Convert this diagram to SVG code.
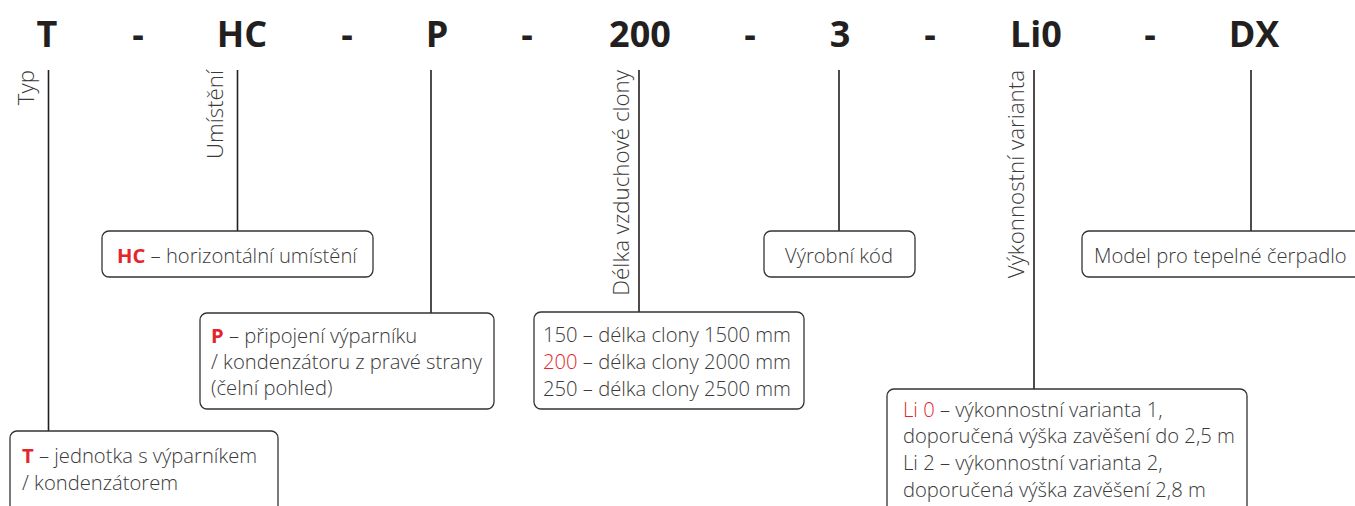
<svg xmlns="http://www.w3.org/2000/svg" width="1355" height="506" viewBox="0 0 1355 506">
<style>
.hd{font-family:"Open Sans","Liberation Sans",sans-serif;font-weight:700;font-size:36px;fill:#231f20;text-anchor:middle}
.lb{font-family:"Open Sans","Liberation Sans",sans-serif;font-weight:300;font-size:22.3px;fill:#3a3a3a;text-anchor:end}
.tx{font-family:"Open Sans","Liberation Sans",sans-serif;font-weight:300;font-size:20.2px;fill:#3a3a3a}
.rd{fill:#e3262d;font-weight:700}
.rn{fill:#e3262d}
.bx{fill:#fff;stroke:#333;stroke-width:1.3}
.ln{stroke:#231f20;stroke-width:1.6;fill:none}
</style>
<rect width="1355" height="506" fill="#fff"/>
<g id="header">
<text class="hd" x="47" y="47">T</text>
<text class="hd" x="138" y="47">-</text>
<text class="hd" x="242" y="47">HC</text>
<text class="hd" x="347" y="47">-</text>
<text class="hd" x="437" y="47">P</text>
<text class="hd" x="527" y="47">-</text>
<text class="hd" x="640" y="47">200</text>
<text class="hd" x="750" y="47">-</text>
<text class="hd" x="840" y="47">3</text>
<text class="hd" x="930" y="47">-</text>
<text class="hd" x="1036" y="47">Li0</text>
<text class="hd" x="1150" y="47">-</text>
<text class="hd" x="1254" y="47">DX</text>
</g>
<g id="connectors">
<line class="ln" x1="48.5" y1="70" x2="48.5" y2="431"/>
<line class="ln" x1="237.5" y1="70" x2="237.5" y2="231"/>
<line class="ln" x1="431" y1="70" x2="431" y2="313"/>
<line class="ln" x1="639" y1="70" x2="639" y2="312"/>
<line class="ln" x1="839" y1="70" x2="839" y2="231"/>
<line class="ln" x1="1034" y1="70" x2="1034" y2="389"/>
<line class="ln" x1="1251" y1="70" x2="1251" y2="231"/>
</g>
<g id="node-T">
<text class="lb" transform="translate(34,70) rotate(-90)">Typ</text>
<rect class="bx" x="10" y="431" width="268" height="90" rx="7"/>
<text class="tx" x="22" y="463"><tspan class="rd">T</tspan> – jednotka s výparníkem</text>
<text class="tx" x="22" y="490">/ kondenzátorem</text>
</g>
<g id="node-HC">
<text class="lb" transform="translate(223,70) rotate(-90)">Umístění</text>
<rect class="bx" x="102" y="231" width="271" height="46" rx="7"/>
<text class="tx" x="117" y="263"><tspan class="rd">HC</tspan> – horizontální umístění</text>
</g>
<g id="node-P">
<rect class="bx" x="200" y="313" width="294" height="96" rx="7"/>
<text class="tx" x="211" y="343"><tspan class="rd">P</tspan> – připojení výparníku</text>
<text class="tx" x="211" y="369">/ kondenzátoru z pravé strany</text>
<text class="tx" x="211" y="395">(čelní pohled)</text>
</g>
<g id="node-200">
<text class="lb" transform="translate(629,70) rotate(-90)">Délka vzduchové clony</text>
<rect class="bx" x="534" y="312" width="270" height="97" rx="7"/>
<text class="tx" x="543" y="342">150 – délka clony 1500 mm</text>
<text class="tx" x="543" y="369"><tspan class="rn">200</tspan> – délka clony 2000 mm</text>
<text class="tx" x="543" y="396">250 – délka clony 2500 mm</text>
</g>
<g id="node-3">
<rect class="bx" x="764" y="231" width="151" height="46" rx="7"/>
<text class="tx" x="785" y="263">Výrobní kód</text>
</g>
<g id="node-Li0">
<text class="lb" transform="translate(1024,70) rotate(-90)">Výkonnostní varianta</text>
<rect class="bx" x="887" y="389" width="360" height="130" rx="7"/>
<text class="tx" x="903" y="417"><tspan class="rn">Li 0</tspan> – výkonnostní varianta 1,</text>
<text class="tx" x="903" y="443">doporučená výška zavěšení do 2,5 m</text>
<text class="tx" x="903" y="470">Li 2 – výkonnostní varianta 2,</text>
<text class="tx" x="903" y="497">doporučená výška zavěšení 2,8 m</text>
</g>
<g id="node-DX">
<rect class="bx" x="1082" y="231" width="280" height="46" rx="7"/>
<text class="tx" x="1094" y="263">Model pro tepelné čerpadlo</text>
</g>
</svg>
